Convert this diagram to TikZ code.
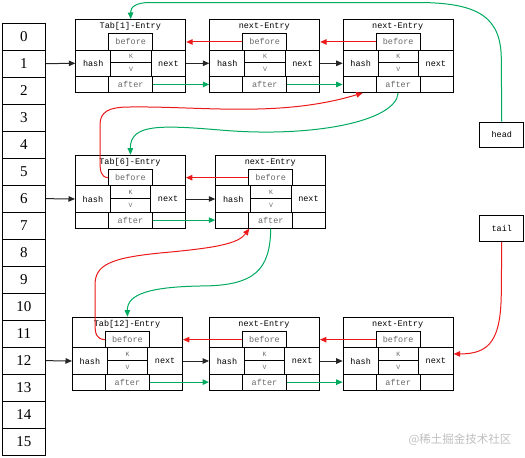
\documentclass[tikz,border=0pt]{standalone}
\usepackage{fontspec}
\setmainfont{Liberation Serif}
\setmonofont{Liberation Mono}
\newfontfamily\cjkfont{Noto Sans CJK SC}
\usetikzlibrary{arrows.meta,calc}
\definecolor{myred}{RGB}{235,25,25}
\definecolor{mygreen}{RGB}{0,170,95}
\definecolor{txtgray}{RGB}{105,105,105}
\tikzset{
  cell/.style={draw=black, line width=0.9pt, anchor=north west, inner sep=0pt,
    font=\ttfamily\fontsize{8.5}{9}\selectfont},
  gtxt/.style={text=txtgray},
  small/.style={font=\ttfamily\fontsize{6.5}{7}\selectfont},
  ttl/.style={inner sep=0pt, font=\ttfamily\fontsize{8.5}{9}\selectfont},
  acell/.style={draw=black, line width=0.9pt, anchor=north west, inner sep=0pt,
    minimum width=43, minimum height=27, font=\fontsize{15}{16}\selectfont},
  blk/.style={draw=black!85, line width=1pt, -{Triangle[length=6.5pt,width=5.5pt]}},
  redarr/.style={draw=myred, line width=1pt, -{Triangle[length=6.5pt,width=5.5pt]}},
  grnarr/.style={draw=mygreen, line width=1pt, -{Triangle[length=6.5pt,width=5.5pt]}},
  lbox/.style={draw=black, line width=0.9pt, anchor=north west, inner sep=0pt,
    minimum width=44, minimum height=25, font=\ttfamily\fontsize{8.5}{9}\selectfont},
}
\newcommand{\entrybox}[4]{%
  \node[cell, minimum width=110, minimum height=73] (#1) at (#2,#3) {};
  \node[ttl] (#1-t) at ({#2+55},{#3+7.5}) {#4};
  \node[cell, gtxt, minimum width=44, minimum height=16.4] (#1-b) at ({#2+33},{#3+14.3}) {before};
  \node[cell, minimum width=35, minimum height=26.3] (#1-h) at (#2,{#3+30.7}) {hash};
  \node[cell, gtxt, small, minimum width=40.4, minimum height=12.6] (#1-k) at ({#2+35},{#3+30.7}) {K};
  \node[cell, gtxt, small, minimum width=40.4, minimum height=13.7] (#1-v) at ({#2+35},{#3+43.3}) {V};
  \node[cell, minimum width=34.6, minimum height=26.3] (#1-n) at ({#2+75.4},{#3+30.7}) {next};
  \node[cell, minimum width=33, minimum height=16] (#1-l) at (#2,{#3+57}) {};
  \node[cell, gtxt, minimum width=44, minimum height=16] (#1-a) at ({#2+33},{#3+57}) {after};
  \node[cell, minimum width=33, minimum height=16] (#1-r) at ({#2+77},{#3+57}) {};
}
\begin{document}
\begin{tikzpicture}[x=1pt,y=-1pt]
\useasboundingbox (0,0) rectangle (525,458);

% array
\foreach \i in {0,...,15} {
  \node[acell] (arr\i) at (2,{22.7+27*\i}) {\i};
}

% entries
\entrybox{A1}{75.3}{19}{Tab[1]-Entry}
\entrybox{A2}{209.3}{19}{next-Entry}
\entrybox{A3}{342.7}{19}{next-Entry}
\entrybox{B1}{75}{154.7}{Tab[6]-Entry}
\entrybox{B2}{215.3}{154.7}{next-Entry}
\entrybox{C1}{72}{316.7}{Tab[12]-Entry}
\entrybox{C2}{209}{316.7}{next-Entry}
\entrybox{C3}{342.7}{316.7}{next-Entry}

% head / tail
\node[lbox] (head) at (479.3,121.7) {head};
\node[lbox, minimum height=26] (tail) at (479.3,215) {tail};

% array -> first entries
\draw[blk] (arr1.east) -- (A1-h.west);
\draw[blk] (arr6.east) -- (B1-h.west);
\draw[blk] (arr12.east) -- (C1-h.west);

% next links
\draw[blk] (A1-n.east) -- (A2-h.west);
\draw[blk] (A2-n.east) -- (A3-h.west);
\draw[blk] (B1-n.east) -- (B2-h.west);
\draw[blk] (C1-n.east) -- (C2-h.west);
\draw[blk] (C2-n.east) -- (C3-h.west);

% before links (red)
\draw[redarr] (A2-b.west) -- (A2-b.west -| A1.east);
\draw[redarr] (A3-b.west) -- (A3-b.west -| A2.east);
\draw[redarr] (B2-b.west) -- (B2-b.west -| B1.east);
\draw[redarr] (C2-b.west) -- (C2-b.west -| C1.east);
\draw[redarr] (C3-b.west) -- (C3-b.west -| C2.east);

% after links (green)
\draw[grnarr] (A1-a.east) -- (A1-a.east -| A2.west);
\draw[grnarr] (A2-a.east) -- (A2-a.east -| A3.west);
\draw[grnarr] (B1-a.east) -- (B1-a.east -| B2.west);
\draw[grnarr] (C1-a.east) -- (C1-a.east -| C2.west);
\draw[grnarr] (C2-a.east) -- (C2-a.east -| C3.west);

% cross-bucket before links (red curves)
\draw[redarr] (B1-b.west) .. controls (101,177) and (100,172) .. (100,160)
  -- (100,125) .. controls (100,112) and (108,107) .. (130,107)
  .. controls (200,106) and (280,118) .. ($(A3.south west)+(20,0)$);
\draw[redarr] (C1-b.west) .. controls (96,339) and (95,334) .. (95,322)
  -- (95,285) .. controls (95,265) and (110,258) .. (160,253)
  .. controls (215,248) and (238,244) .. ($(B2.south west)+(34,0)$);

% cross-bucket after links (green curves)
\draw[grnarr] (A3-a.south) .. controls (396,122) and (310,138) .. (220,130)
  .. controls (160,125) and (130,124) .. (B1.north);
\draw[grnarr] (B2-a.south) .. controls (270,270) and (255,286) .. (200,286)
  .. controls (150,287) and (127,294) .. (C1.north);

% head / tail
\draw[grnarr] (head.north) -- (501.3,60) .. controls (501.3,18) and (480,3) .. (420,2.5)
  -- (150,2.5) .. controls (136,2.5) and (130.3,7) .. (A1.north);
\draw[redarr] (tail.south) -- (501.3,290) .. controls (501.3,340) and (490,354) .. ($(C3-n.north east)+(0,6.5)$);

% watermark
\node[inner sep=0pt, text=black!25, font=\cjkfont\fontsize{11.5}{13}\selectfont] (wm) at (460,439.5) {@稀土掘金技术社区};
\end{tikzpicture}
\end{document}
